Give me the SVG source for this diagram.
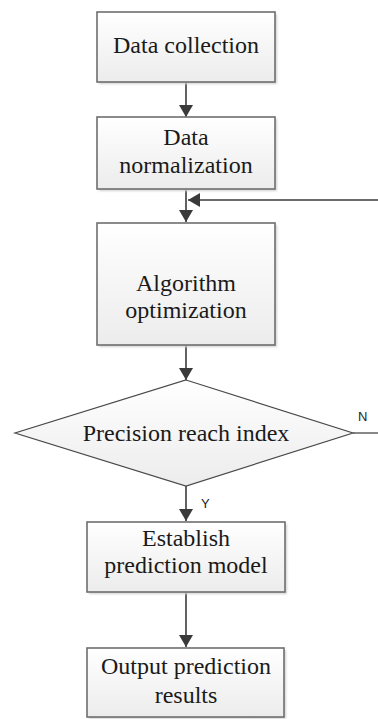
<svg xmlns="http://www.w3.org/2000/svg" width="378" height="719" viewBox="0 0 378 719">
<style>
.box{fill:url(#g);stroke:#6e6e6e;stroke-width:1.6}
.sh{fill:#d0d0d0;filter:url(#blur)}
.t{font-size:24px;fill:#1a1a1a;text-anchor:middle}
.lab{font-size:13px;fill:#222}
.ln{stroke:#3a3a3a;stroke-width:1.6;fill:none}
</style>
<defs>
<linearGradient id="g" x1="0" y1="0" x2="0" y2="1">
<stop offset="0" stop-color="#ffffff"/>
<stop offset="1" stop-color="#ececec"/>
</linearGradient>
<filter id="blur" x="-10%" y="-10%" width="120%" height="120%"><feGaussianBlur stdDeviation="1.2"/></filter>
<marker id="ah" viewBox="0 0 12 14" refX="12" refY="7" markerWidth="12" markerHeight="14" markerUnits="userSpaceOnUse" orient="auto">
<path d="M0,0 L12,7 L0,14 z" fill="#3a3a3a"/>
</marker>
</defs>
<g id="connectors">
<line class="ln" x1="186" y1="82" x2="186" y2="117" marker-end="url(#ah)"/>
<line class="ln" x1="186" y1="190" x2="186" y2="222" marker-end="url(#ah)"/>
<line class="ln" x1="378" y1="200" x2="188" y2="200" marker-end="url(#ah)"/>
<line class="ln" x1="186" y1="345" x2="186" y2="380" marker-end="url(#ah)"/>
<line x1="353" y1="433" x2="378" y2="433" stroke="#888" stroke-width="2"/>
<line class="ln" x1="186" y1="486" x2="186" y2="521" marker-end="url(#ah)"/>
<line class="ln" x1="186" y1="592" x2="186" y2="647" marker-end="url(#ah)"/>
<text class="lab" font-family="Liberation Sans, Arial, sans-serif" x="358" y="421">N</text>
<text class="lab" font-family="Liberation Sans, Arial, sans-serif" x="201" y="508" font-size="12">Y</text>
</g>
<g id="n1" font-family="Liberation Serif, Times New Roman, DejaVu Serif, serif">
<rect class="sh" x="99" y="14" width="178" height="70"/>
<rect class="box" x="97" y="12" width="178" height="70"/>
<text class="t" x="186" y="53">Data collection</text>
</g>
<g id="n2" font-family="Liberation Serif, Times New Roman, DejaVu Serif, serif">
<rect class="sh" x="99" y="119" width="178" height="72"/>
<rect class="box" x="97" y="117" width="178" height="72"/>
<text class="t" x="186" y="145">Data</text>
<text class="t" x="186" y="173">normalization</text>
</g>
<g id="n3" font-family="Liberation Serif, Times New Roman, DejaVu Serif, serif">
<rect class="sh" x="99" y="225" width="178" height="122"/>
<rect class="box" x="97" y="223" width="178" height="122"/>
<text class="t" x="186" y="291">Algorithm</text>
<text class="t" x="186" y="318">optimization</text>
</g>
<g id="n4" font-family="Liberation Serif, Times New Roman, DejaVu Serif, serif">
<polygon points="186,380 353,433 186,486 15,433" fill="url(#g)" stroke="#4a4a4a" stroke-width="1.2"/>
<text class="t" x="186" y="441">Precision reach index</text>
</g>
<g id="n5" font-family="Liberation Serif, Times New Roman, DejaVu Serif, serif">
<rect class="sh" x="89" y="524" width="198" height="70"/>
<rect class="box" x="87" y="522" width="198" height="70"/>
<text class="t" x="186" y="546">Establish</text>
<text class="t" x="186" y="573">prediction model</text>
</g>
<g id="n6" font-family="Liberation Serif, Times New Roman, DejaVu Serif, serif">
<rect class="sh" x="89" y="650" width="197" height="69"/>
<rect class="box" x="87" y="648" width="197" height="69"/>
<text class="t" x="186" y="674">Output prediction</text>
<text class="t" x="186" y="703">results</text>
</g>
</svg>
